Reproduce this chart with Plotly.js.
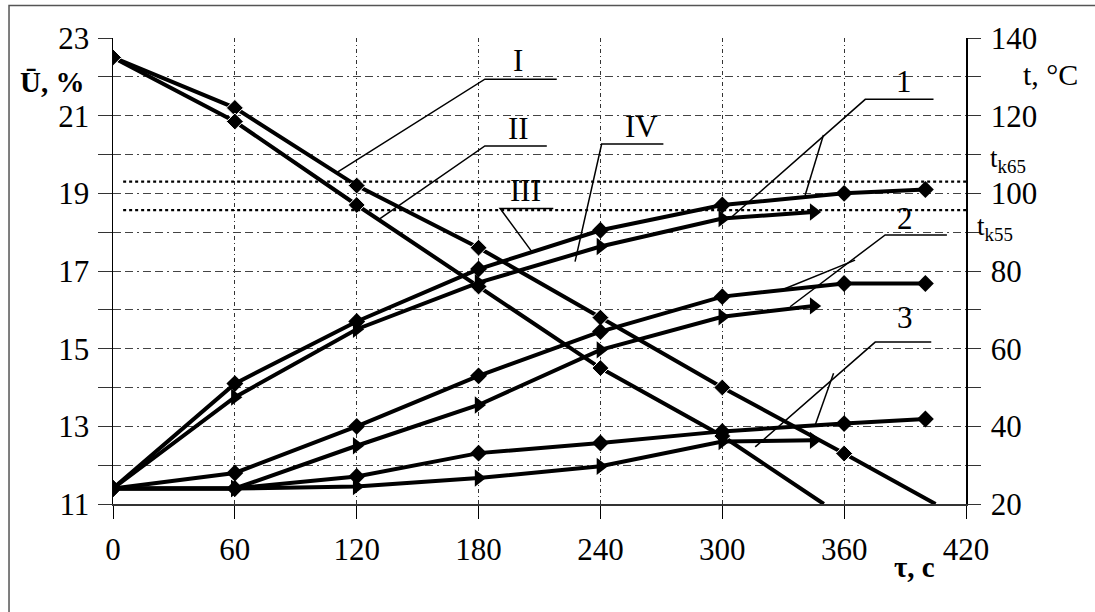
<!DOCTYPE html>
<html>
<head>
<meta charset="utf-8">
<script src="https://cdn.plot.ly/plotly-3.0.1.min.js"></script>
<style>html,body{margin:0;padding:0;background:#fff;}#chart{width:1095px;height:612px;}</style>
</head>
<body>
<div id="chart"></div>
<script>
// ---- data: moisture (left axis, %) ----
const xI = [0, 60, 120, 180, 240, 300, 360, 405];
const uI = [22.5, 21.2, 19.2, 17.6, 15.8, 14.0, 12.3, 11.0];
const xII = [0, 60, 120, 180, 240, 300, 350];
const uII = [22.5, 20.85, 18.7, 16.6, 14.5, 12.75, 11.0];

// ---- data: temperature (right axis, °C) ----
const xA = [0, 60, 120, 180, 240, 300, 360, 400];   // diamond series
const xB = [0, 60, 120, 180, 240, 300, 345];        // triangle series
const t1a = [24, 51, 67, 80.5, 90.5, 97, 100, 101];
const t1b = [24, 47.5, 65, 77, 86.3, 93.5, 95.2];
const t2a = [24, 28, 40, 53, 64.4, 73.4, 76.8, 76.8];
const t2b = [24, 24, 35, 45.5, 59.7, 68.2, 71.0];
const t3a = [24, 24, 27.1, 33.1, 35.7, 38.7, 40.7, 41.9];
const t3b = [24, 24, 24.5, 26.7, 29.7, 36.1, 36.4];

// reference temperatures
const tk65 = 103;
const tk55 = 95.7;

// tick labels
const xTicks = [0, 60, 120, 180, 240, 300, 360, 420];
const uTickVals = [11, 13, 15, 17, 19, 21, 23];
const tTickVals = [20, 40, 60, 80, 100, 120, 140];

const FONT = 'Liberation Serif';
const TF = 31;
const MS = 13;

function lastHidden(xs){ return xs.map((v,i)=> i===xs.length-1 ? 0 : MS); }

const LW = 4;
const traces = [
  {x: xI, y: uI, yaxis:'y', mode:'lines+markers', line:{color:'#000', width:LW},
   marker:{symbol:'diamond', size:lastHidden(xI), color:'#000', opacity:1}},
  {x: xII, y: uII, yaxis:'y', mode:'lines+markers', line:{color:'#000', width:LW},
   marker:{symbol:'diamond', size:lastHidden(xII), color:'#000', opacity:1}},
  {x: xA, y: t1a, yaxis:'y2', mode:'lines+markers', line:{color:'#000', width:LW}, marker:{symbol:'diamond', size:MS, color:'#000'}},
  {x: xB, y: t1b, yaxis:'y2', mode:'lines+markers', line:{color:'#000', width:LW}, marker:{symbol:'triangle-right', size:MS+2, color:'#000'}},
  {x: xA, y: t2a, yaxis:'y2', mode:'lines+markers', line:{color:'#000', width:LW}, marker:{symbol:'diamond', size:MS, color:'#000'}},
  {x: xB, y: t2b, yaxis:'y2', mode:'lines+markers', line:{color:'#000', width:LW}, marker:{symbol:'triangle-right', size:MS+2, color:'#000'}},
  {x: xA, y: t3a, yaxis:'y2', mode:'lines+markers', line:{color:'#000', width:LW}, marker:{symbol:'diamond', size:MS, color:'#000'}},
  {x: xB, y: t3b, yaxis:'y2', mode:'lines+markers', line:{color:'#000', width:LW}, marker:{symbol:'triangle-right', size:MS+2, color:'#000'}}
];

// leader lines (in x / left-axis units)
const leaders = [
  [[218.5,21.94],[183.1,21.94],[110.7,19.55]],
  [[213.6,20.22],[183.1,20.22],[130.4,18.31]],
  [[216.8,18.61],[190.6,18.61],[206.2,17.50]],
  [[271.0,20.27],[240.6,20.27],[227.5,17.24]],
  [[404.0,21.42],[370.4,21.42],[303.9,18.36]],
  [[349.8,20.5],[340.8,18.95]],
  [[410.6,17.93],[380.2,17.93],[333.4,16.08]],
  [[365.4,17.28],[330.1,16.53]],
  [[402.9,15.17],[375.3,15.17],[316.2,12.47]],
  [[354.8,14.37],[345.8,13.04]]
];
const curveLabels = [
  ['I',199.4,22.43],['II',199.9,20.68],['III',202.9,19.08],['IV',260.4,20.71],
  ['1',389.3,21.87],['2',390.1,18.36],['3',390,15.80]
];

const shapes = [];
leaders.forEach(pts=>{
  const p = pts.map((q,i)=>(i===0?'M ':'L ')+q[0]+' '+q[1]).join(' ');
  shapes.push({type:'path', xref:'x', yref:'y', path:p, line:{color:'#000', width:1.5}});
});
[tk65, tk55].forEach(v=>{
  shapes.push({type:'line', xref:'x', yref:'y2', x0:5, x1:425, y0:v, y1:v,
    line:{color:'#000', width:2.2, dash:'dot'}, layer:'above'});
});
shapes.push({type:'rect', xref:'paper', yref:'paper', x0:-0.1219, x1:1.2, y0:-0.3, y1:1.0697,
  line:{color:'#555', width:1.5}, fillcolor:'rgba(0,0,0,0)'});

const annotations = curveLabels.map(l=>({text:l[0], x:l[1], y:l[2], xref:'x', yref:'y',
  showarrow:false, xanchor:'center', yanchor:'middle', font:{family:FONT, size:31, color:'#000'}}));
annotations.push(
  {text:'<b>Ū, %</b>', xref:'paper', yref:'paper', x:-0.0715, y:0.9056, showarrow:false,
   xanchor:'center', yanchor:'middle', font:{family:FONT, size:29, color:'#000'}},
  {text:'t, °C', xref:'paper', yref:'paper', x:1.0996, y:0.9227, showarrow:false,
   xanchor:'center', yanchor:'middle', font:{family:FONT, size:30, color:'#000'}},
  {text:'<b>τ, c</b>', xref:'paper', yref:'paper', x:0.9402, y:-0.1352, showarrow:false,
   xanchor:'center', yanchor:'middle', font:{family:FONT, size:29, color:'#000'}},
  {text:'t<sub>k65</sub>', xref:'paper', yref:'paper', x:1.0258, y:0.738, showarrow:false,
   xanchor:'left', yanchor:'middle', font:{family:FONT, size:27, color:'#000'}},
  {text:'t<sub>k55</sub>', xref:'paper', yref:'paper', x:1.0106, y:0.592, showarrow:false,
   xanchor:'left', yanchor:'middle', font:{family:FONT, size:27, color:'#000'}}
);

const HDASH = '8px,4px,8px,4px,2px,4px';
const layout = {
  width:1095, height:612,
  margin:{l:113, r:129, t:38, b:108},
  paper_bgcolor:'#fff', plot_bgcolor:'#fff',
  showlegend:false,
  font:{family:FONT, size:TF, color:'#000'},
  xaxis:{range:[0,420], tickvals:xTicks, ticktext:xTicks.map(String), ticks:'outside', ticklen:13,
    tickcolor:'#000', showline:true, linecolor:'#333', linewidth:1.5, zeroline:false,
    showgrid:true, gridcolor:'#333', gridwidth:1, griddash:'4px,3px,1px,3px',
    ticklabelstandoff:4, tickfont:{family:FONT, size:TF, color:'#000'}},
  yaxis:{range:[11,23], tickvals:uTickVals, ticktext:uTickVals.map(String), ticks:'outside', ticklen:14,
    tickcolor:'#333', showline:true, linecolor:'#000', linewidth:1.5, zeroline:false,
    showgrid:true, gridcolor:'#444', gridwidth:1, griddash:HDASH,
    minor:{tick0:11, dtick:1, ticks:'outside', ticklen:14, tickcolor:'#333',
      showgrid:true, gridcolor:'#444', gridwidth:1, griddash:HDASH},
    ticklabelstandoff:2, tickfont:{family:FONT, size:TF, color:'#000'}},
  yaxis2:{range:[20,140], overlaying:'y', side:'right', tickvals:tTickVals, ticktext:tTickVals.map(String),
    ticks:'outside', ticklen:13, tickcolor:'#333', showline:true, linecolor:'#000', linewidth:1.5,
    zeroline:false, showgrid:false, ticklabelstandoff:4,
    minor:{tick0:20, dtick:10, ticks:'outside', ticklen:13, tickcolor:'#333', showgrid:false},
    tickfont:{family:FONT, size:TF, color:'#000'}},
  shapes:shapes,
  annotations:annotations
};

Plotly.newPlot('chart', traces, layout, {staticPlot:true, displayModeBar:false});
</script>
</body>
</html>
